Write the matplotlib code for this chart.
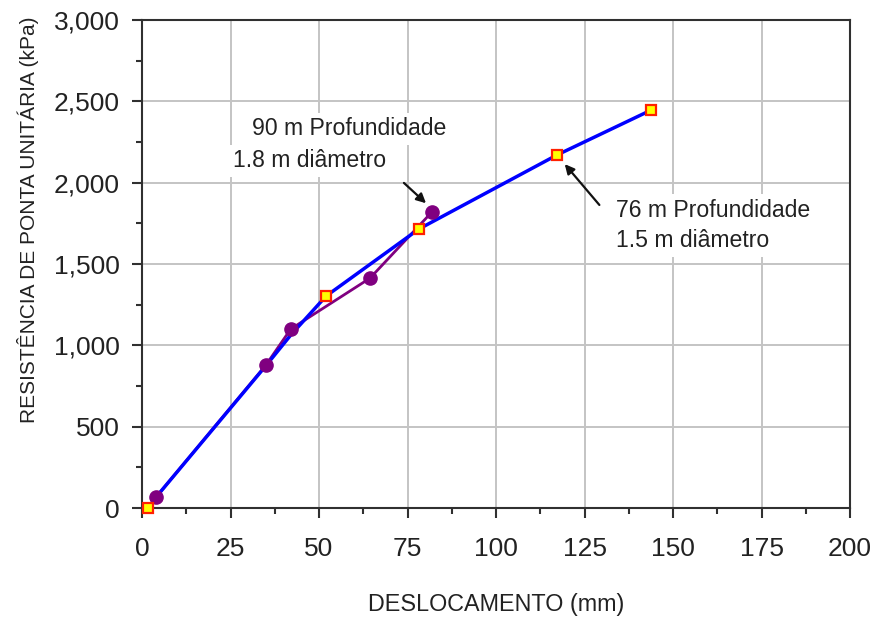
import matplotlib
matplotlib.use("Agg")
import matplotlib.pyplot as plt
from matplotlib.ticker import MultipleLocator, StrMethodFormatter

plt.rcParams['font.family'] = ['Liberation Sans', 'DejaVu Sans']

# 90 m depth, 1.8 m diameter (purple circles)
desl_90 = [4.0, 35.0, 42.0, 64.4, 81.9]
res_90 = [68, 879, 1100, 1413, 1820]

# 76 m depth, 1.5 m diameter (yellow squares)
desl_76 = [1.7, 52.0, 78.2, 117.2, 143.8]
res_76 = [0, 1303, 1715, 2170, 2446]

# blue trend curve
desl_fit = [4.0, 35.0, 42.0, 52.0, 78.2, 117.2, 143.8]
res_fit = [68, 875, 1063, 1303, 1715, 2170, 2446]

fig = plt.figure(figsize=(8.73, 6.19), dpi=100)
ax = fig.add_axes([0.1627, 0.1793, 0.811, 0.7884])

ax.plot(desl_90, res_90, color='#800080', lw=2.0, zorder=3)
ax.plot(desl_fit, res_fit, color='#0000ff', lw=2.5, zorder=4)
ax.plot(desl_90, res_90, 'o', color='#800080', ms=9.5, zorder=5, clip_on=False)
ax.plot(desl_76, res_76, 's', mfc='#ffff00', mec='#ff2000', mew=1.6, ms=7,
        zorder=6, clip_on=False)

ax.set_xlim(0, 200)
ax.set_ylim(0, 3000)
ax.xaxis.set_major_locator(MultipleLocator(25))
ax.xaxis.set_minor_locator(MultipleLocator(12.5))
ax.yaxis.set_major_locator(MultipleLocator(500))
ax.yaxis.set_minor_locator(MultipleLocator(250))
ax.yaxis.set_major_formatter(StrMethodFormatter('{x:,.0f}'))

ax.grid(True, which='major', color='#c4c4c4', lw=1.4)
ax.set_axisbelow(True)
for s in ax.spines.values():
    s.set_color('#303030')
    s.set_linewidth(1.5)

ax.tick_params(which='major', length=7, width=1.5, color='#303030',
               labelsize=19, labelcolor='#222222')
ax.tick_params(which='minor', length=4, width=1.5, color='#303030')
ax.tick_params(axis='x', which='major', pad=14)
ax.tick_params(axis='y', which='major', pad=9)

ax.set_xlabel('DESLOCAMENTO (mm)', fontsize=16.8, color='#222222')
ax.set_ylabel('RESISTÊNCIA DE PONTA UNITÁRIA (kPa)', fontsize=15, color='#222222')
ax.xaxis.set_label_coords(0.5, -0.175)
ax.yaxis.set_label_coords(-0.145, 0.59)

box = dict(boxstyle='square,pad=0.2', fc='white', ec='none')
arrow = dict(arrowstyle='-|>', color='#111111', lw=1.6, mutation_scale=14)

ax.text(31.0, 2330, '90 m Profundidade', fontsize=16.6, color='#222222',
        va='center', ha='left', bbox=box, zorder=7)
ax.text(25.6, 2135, '1.8 m diâmetro', fontsize=16.6, color='#222222',
        va='center', ha='left', bbox=box, zorder=7)
ax.annotate('', xy=(80.8, 1862), xytext=(73.4, 2010), arrowprops=arrow, zorder=8)

ax.text(134.0, 1830, '76 m Profundidade', fontsize=16.6, color='#222222',
        va='center', ha='left', bbox=box, zorder=7)
ax.text(134.0, 1645, '1.5 m diâmetro', fontsize=16.6, color='#222222',
        va='center', ha='left', bbox=box, zorder=7)
ax.annotate('', xy=(118.9, 2127), xytext=(129.7, 1850), arrowprops=arrow, zorder=8)

fig.savefig('out.png', dpi=100)
